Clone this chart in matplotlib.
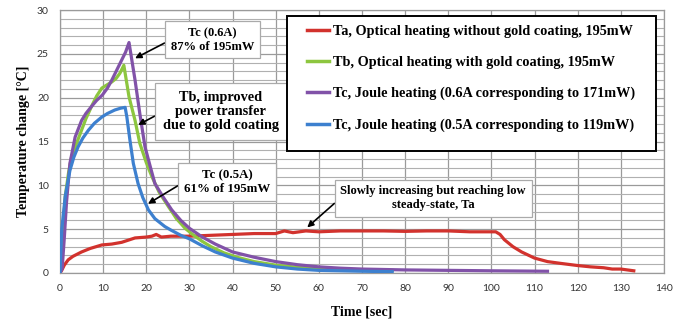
import matplotlib
matplotlib.use("Agg")
import matplotlib.pyplot as plt
from matplotlib.patches import Rectangle

# Ta - optical heating without gold coating
t_a = [0, 0.4, 1, 1.9, 3, 5, 7, 9.7, 12, 14.3, 17.4, 20, 21.3, 22.3, 23.5, 25.7, 30, 35, 40, 45,
       50, 52, 54, 57, 60, 65, 70, 75, 80, 85, 90, 95, 100, 101, 102, 103, 105, 107, 110, 113,
       116, 120, 123, 126, 128, 130, 133]
v_a = [0, 0.3, 0.9, 1.5, 1.9, 2.4, 2.8, 3.2, 3.3, 3.5, 4.0, 4.1, 4.2, 4.4, 4.1, 4.2, 4.2, 4.3, 4.4, 4.5,
       4.5, 4.8, 4.6, 4.8, 4.7, 4.8, 4.8, 4.8, 4.75, 4.8, 4.8, 4.7, 4.7, 4.7, 4.4, 3.8, 3.0, 2.4, 1.7, 1.3,
       1.1, 0.85, 0.7, 0.6, 0.45, 0.45, 0.25]

# Tb - optical heating with gold coating
t_b = [0, 0.4, 1.2, 2, 2.7, 4, 5, 6, 7.3, 8.5, 9.7, 11, 12, 13, 13.9, 14.8, 16, 17.4, 18.5, 20, 21.3,
       23, 25.1, 27, 29, 31, 33, 35, 38, 41, 45, 50, 55, 60, 65, 70, 77]
v_b = [0, 2.6, 8.7, 11.5, 13.3, 15.0, 16.3, 17.6, 19.0, 20.2, 21.1, 21.5, 21.8, 22.2, 22.8, 23.7,
       20.1, 17.4, 14.8, 12.6, 11.0, 9.2, 7.6, 6.2, 5.1, 4.3, 3.6, 3.0, 2.3, 1.8, 1.3, 0.9, 0.65, 0.5,
       0.4, 0.35, 0.3]

# Tc - joule heating 0.6A
t_c6 = [0, 0.5, 1, 1.5, 2.3, 3.5, 5, 6, 7.3, 8.5, 9.8, 11, 12, 13, 14.3, 15.2, 16, 17.4, 18.5,
        19.7, 21, 22, 24, 25.9, 28, 30, 33, 36, 40, 45, 50, 55, 60, 65, 70, 80, 90, 100, 113]
v_c6 = [0, 0.5, 4, 8, 12.5, 15.5, 17.4, 18.2, 19.0, 19.7, 20.3, 21.1, 22.0, 23.0, 24.3, 25.2, 26.3,
        22.0, 18.2, 14.4, 12.0, 10.2, 8.6, 7.2, 6.0, 5.1, 4.1, 3.3, 2.4, 1.8, 1.3, 0.95, 0.7, 0.55,
        0.45, 0.35, 0.3, 0.25, 0.2]

# Tc - joule heating 0.5A
t_c5 = [0, 0.4, 1.2, 2.3, 3.2, 4.2, 5.3, 6.6, 8, 9.7, 11, 12.7, 14, 15.1, 15.5, 16.2, 17, 18.1,
        19.2, 20.5, 22, 24.3, 25.7, 28, 30, 33, 36, 40, 45, 50, 55, 60, 65, 70, 77]
v_c5 = [0, 4.9, 8.7, 11.7, 13.2, 14.4, 15.4, 16.3, 17.1, 17.8, 18.2, 18.6, 18.8, 18.9, 17.8, 15.2,
        12.5, 10.2, 8.6, 7.2, 6.2, 5.3, 4.9, 4.3, 3.9, 3.1, 2.4, 1.7, 1.1, 0.7, 0.45, 0.3, 0.25, 0.2,
        0.15]

labels = ["Ta, Optical heating without gold coating, 195mW",
          "Tb, Optical heating with gold coating, 195mW",
          "Tc, Joule heating (0.6A corresponding to 171mW)",
          "Tc, Joule heating (0.5A corresponding to 119mW)"]
colors = ["#d2322d", "#8dc63f", "#8152a8", "#3d80cf"]

serif = "Liberation Serif"

fig = plt.figure(figsize=(6.88, 3.26), dpi=100)
ax = fig.add_axes([0.0872, 0.1626, 0.8779, 0.8064])

ax.plot(t_a, v_a, color=colors[0], lw=2.3, label=labels[0], zorder=3)
ax.plot(t_b, v_b, color=colors[1], lw=2.3, label=labels[1], zorder=3)
ax.plot(t_c6, v_c6, color=colors[2], lw=2.3, label=labels[2], zorder=3)
ax.plot(t_c5, v_c5, color=colors[3], lw=2.3, label=labels[3], zorder=4)

ax.set_xlim(0, 140)
ax.set_ylim(0, 30)
ax.set_xticks(range(0, 141, 10))
ax.set_yticks(range(0, 31, 5))
ax.set_yticks(range(0, 31, 1), minor=True)
ax.grid(True, which="major", color="#9a9a9a", lw=0.9)
ax.grid(True, which="minor", axis="y", color="#b0b0b0", lw=0.8)
ax.set_axisbelow(True)
ax.tick_params(length=0, which="both", labelsize=7.5, colors="#333333", pad=8)
for lab in ax.get_xticklabels() + ax.get_yticklabels():
    lab.set_family("Lato")
for s in ax.spines.values():
    s.set_color("#9a9a9a")
    s.set_linewidth(0.9)

ax.set_xlabel("Time [sec]", family=serif, fontweight="bold", fontsize=10, labelpad=9)
ax.set_ylabel("Temperature change [°C]", family=serif, fontweight="bold", fontsize=10, labelpad=5)

# legend frame drawn by hand so the padding can differ left/right vs top/bottom
ax.add_patch(Rectangle((0.3758, 0.465), 0.611, 0.5122, transform=ax.transAxes,
                       fc="white", ec="black", lw=1.4, zorder=7))
leg = ax.legend(loc="upper left", bbox_to_anchor=(0.4084, 0.943), frameon=False,
                prop={"family": serif, "weight": "bold", "size": 10.3},
                handlelength=1.55, handletextpad=0.3, labelspacing=1.25, borderpad=0,
                borderaxespad=0)
leg.set_zorder(8)
for ln in leg.get_lines():
    ln.set_linewidth(2.5)

box = dict(boxstyle="square,pad=0.45", fc="white", ec="#aaaaaa", lw=0.9)
arrow = dict(arrowstyle="-|>", color="black", lw=1.2, mutation_scale=9, relpos=(0, 0.5),
             shrinkA=0, shrinkB=0)
txt = dict(family=serif, fontweight="bold", ha="center", va="center",
           bbox=box, zorder=6, arrowprops=arrow)

ax.annotate("Tc (0.6A)\n87% of 195mW", xy=(17.4, 24.5), xytext=(35.3, 26.6), fontsize=9, **txt)
ax.annotate("Tb, improved\npower transfer\ndue to gold coating", xy=(18.1, 16.9),
            xytext=(37.3, 18.4), fontsize=10.3, linespacing=1.1,
            bbox=dict(boxstyle="square,pad=0.55", fc="white", ec="#aaaaaa", lw=0.9),
            family=serif, fontweight="bold", ha="center", va="center", zorder=6,
            arrowprops=arrow)
ax.annotate("Tc (0.5A)\n61% of 195mW", xy=(20.4, 7.9), xytext=(38.8, 10.4), fontsize=9.3, **txt)
ax.annotate("Slowly increasing but reaching low\nsteady-state, Ta", xy=(57.3, 5.2),
            xytext=(86.5, 8.55), fontsize=9, **txt)

fig.savefig("out.png", dpi=100)
